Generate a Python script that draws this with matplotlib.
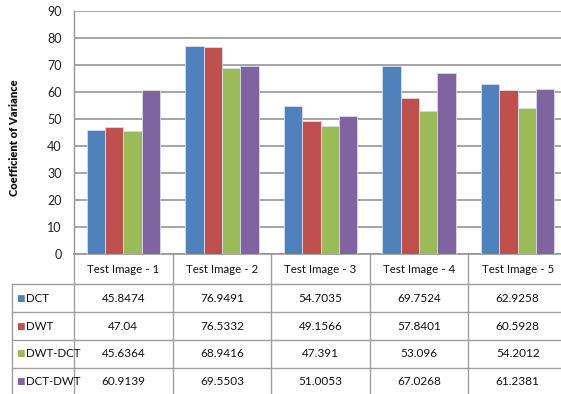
import matplotlib
matplotlib.use("Agg")
import matplotlib.pyplot as plt
import matplotlib.transforms as mtransforms
import numpy as np

categories = ["Test Image - 1", "Test Image - 2", "Test Image - 3", "Test Image - 4", "Test Image - 5"]
series_names = ["DCT", "DWT", "DWT-DCT", "DCT-DWT"]
dct = [45.8474, 76.9491, 54.7035, 69.7524, 62.9258]
dwt = [47.04, 76.5332, 49.1566, 57.8401, 60.5928]
dwt_dct = [45.6364, 68.9416, 47.391, 53.096, 54.2012]
dct_dwt = [60.9139, 69.5503, 51.0053, 67.0268, 61.2381]
value_labels = [
    ["45.8474", "76.9491", "54.7035", "69.7524", "62.9258"],
    ["47.04", "76.5332", "49.1566", "57.8401", "60.5928"],
    ["45.6364", "68.9416", "47.391", "53.096", "54.2012"],
    ["60.9139", "69.5503", "51.0053", "67.0268", "61.2381"],
]
yticks = [0, 10, 20, 30, 40, 50, 60, 70, 80, 90]
colors = ["#4F81BD", "#C0504D", "#9BBB59", "#8064A2"]

W, H = 561, 394
fig = plt.figure(figsize=(W / 100, H / 100), dpi=100)
FONT = ["Lato", "DejaVu Sans"]
plt.rcParams["font.family"] = FONT

ax_left, ax_right, ax_top, ax_bot = 74, 567, 11, 254
ax = fig.add_axes([ax_left / W, 1 - ax_bot / H, (ax_right - ax_left) / W, (ax_bot - ax_top) / H])
ax.set_xlim(-0.5, 4.5)
ax.set_ylim(0, 90)

series = [dct, dwt, dwt_dct, dct_dwt]
bw = 0.186
x = np.arange(len(categories))
for i, (vals, c) in enumerate(zip(series, colors)):
    ax.bar(x + (i - 1.5) * bw, vals, width=bw, color=c, edgecolor="#d8dde8",
           linewidth=0.6, zorder=3)

ax.set_yticks(yticks)
ax.set_yticklabels([str(t) for t in yticks], fontsize=9, color="#222222")
ax.tick_params(axis="y", length=0, pad=9)
ax.set_xticks([])
ax.yaxis.grid(True, color="#969696", linewidth=1.2, zorder=0)
for s in ["top", "right"]:
    ax.spines[s].set_visible(False)
ax.spines["left"].set_color("#969696")
ax.spines["bottom"].set_color("#969696")
ax.spines["left"].set_linewidth(1.0)
ax.spines["bottom"].set_linewidth(1.2)

fig.text(15 / W, 1 - 138 / H, "Coefficient of Variance", rotation=90, ha="center",
         va="center", fontsize=8, fontweight="heavy", color="#111111")

# table below the axes
tr = mtransforms.blended_transform_factory(ax.transData, fig.transFigure)
def fy(py):
    return 1 - py / H

left_edge = (12 - ax_left) / 98.6 - 0.5
row_lines = [254, 284.3, 312, 340, 367.7, 395.5]
lc = "#a0a0a0"
for yy in row_lines[1:]:
    ax.plot([left_edge, 4.5], [fy(yy), fy(yy)], transform=tr, color=lc, lw=1.0, clip_on=False)
for xx in [-0.5, 0.5, 1.5, 2.5, 3.5]:
    ax.plot([xx, xx], [fy(254), fy(400)], transform=tr, color=lc, lw=1.0, clip_on=False)
ax.plot([left_edge, left_edge], [fy(284.3), fy(400)], transform=tr, color=lc, lw=1.0, clip_on=False)

hdr_y = (254 + 284.3) / 2
for i, cat in enumerate(categories):
    ax.text(i, fy(hdr_y), cat, transform=tr, ha="center", va="center", fontsize=8.3, color="#111111")
for r in range(4):
    cy = (row_lines[r + 1] + row_lines[r + 2]) / 2
    for i in range(len(categories)):
        ax.text(i, fy(cy), value_labels[r][i], transform=tr, ha="center", va="center",
                fontsize=8.5, color="#111111")
    fig.text(16 / W, fy(cy), "\u25A0", color=colors[r], fontsize=6.5, ha="left", va="center",
             family=["DejaVu Sans"])
    fig.text(26 / W, fy(cy), series_names[r], ha="left", va="center", fontsize=8.3, color="#111111")

fig.savefig("out.png", dpi=100)
